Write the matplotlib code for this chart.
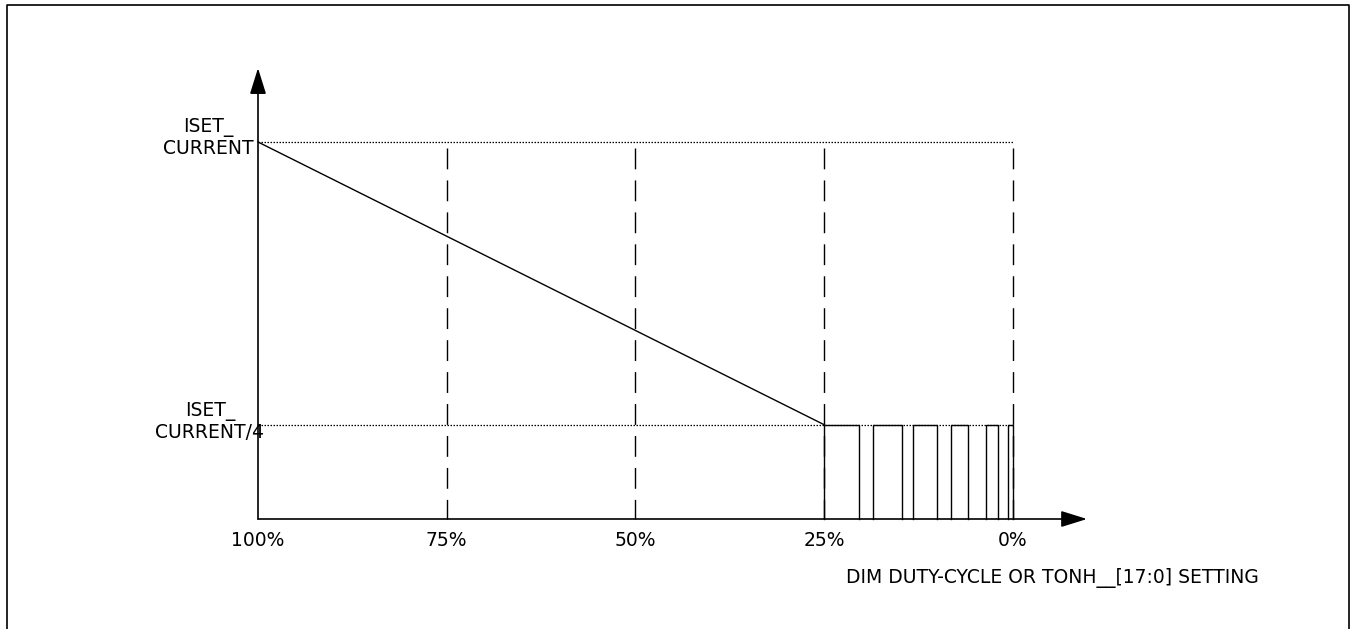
import matplotlib.pyplot as plt
from matplotlib.lines import Line2D

# duty-cycle ticks (percent) and current levels (fraction of ISET_CURRENT)
ticks = [100, 75, 50, 25, 0]
tick_labels = ["100%", "75%", "50%", "25%", "0%"]
full_level = 1.0
min_level = 0.25

# analog dimming ramp: 100% -> 25%
ramp_x = [100, 25]
ramp_y = [1.0, 0.25]

# PWM pulses below 25% duty (start, end) in percent
pulse_start = [25, 18.5, 13.2, 8.2, 3.6, 0.7]
pulse_end = [20.4, 14.7, 10.0, 6.0, 2.0, 0.05]

W, H = 1351, 629
fig = plt.figure(figsize=(W / 100, H / 100), dpi=100)
ax = fig.add_axes([0, 0, 1, 1])
# map pixels to data: 100% at x=258, 0% at x=1013, level 0 at y=519, level 1 at y=142
px = 7.55
ax.set_xlim(1013 / px, (1013 - W) / px)
ax.set_ylim((519 - H) / 377, 519 / 377)
ax.axis("off")

# outer frame (no bottom edge)
fig.add_artist(Line2D([6.5 / W, 6.5 / W, 1348.5 / W, 1348.5 / W],
                      [0, 1 - 4.5 / H, 1 - 4.5 / H, 0],
                      color="black", lw=1.2, transform=fig.transFigure))

# dotted reference levels
for lvl in [full_level, min_level]:
    ax.plot([ticks[0], ticks[-1]], [lvl, lvl], color="black", lw=0.9,
            linestyle=(0, (1.2, 1.2)))

# dashed verticals
for t in ticks[1:]:
    ax.plot([t, t], [0.984, 0], color="black", lw=1.0, linestyle=(0, (15, 8)))

# ramp
ax.plot(ramp_x, ramp_y, color="black", lw=1.0)

# pulses
px_list, py_list = [], []
for a, b in zip(pulse_start, pulse_end):
    px_list += [a, a, b, b, None]
    py_list += [0, min_level, min_level, 0, None]
ax.plot(px_list, py_list, color="black", lw=1.0)

# axes with arrows
arrow = dict(arrowstyle="-|>,head_length=0.8,head_width=0.25", color="black",
             lw=1.2, shrinkA=0, shrinkB=0, mutation_scale=20)
ax.annotate("", xy=(100, 1.196), xytext=(100, 0), arrowprops=arrow)
ax.annotate("", xy=(-9.8, 0), xytext=(100, 0), arrowprops=arrow)

fs = 13.5
for t, lab in zip(ticks, tick_labels):
    ax.text(t, (519 - 540) / 377, lab, ha="center", va="center", fontsize=fs)

ax.text((1013 - 208) / px, (519 - 138) / 377, "ISET_\nCURRENT", ha="center",
        va="center", fontsize=fs, linespacing=1.15)
ax.text((1013 - 210) / px, (519 - 422) / 377, "ISET_\nCURRENT/4", ha="center",
        va="center", fontsize=fs, linespacing=1.15)
ax.text((1013 - 1052) / px, (519 - 578) / 377,
        "DIM DUTY-CYCLE OR TONH__[17:0] SETTING", ha="center", va="center",
        fontsize=fs)

fig.savefig("out.png", dpi=100)
